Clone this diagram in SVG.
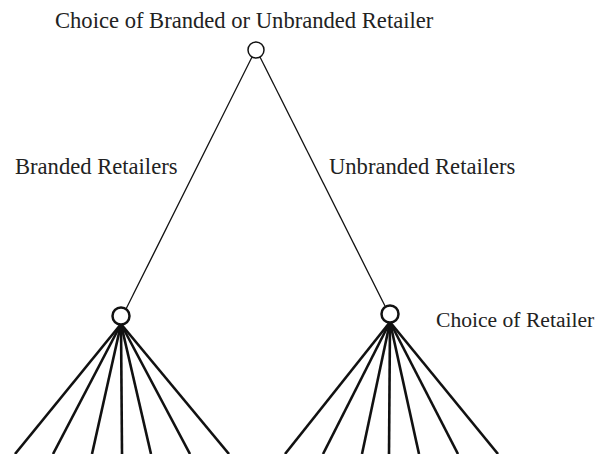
<svg xmlns="http://www.w3.org/2000/svg" width="600" height="454" viewBox="0 0 600 454">
<style>
text{font-family:"Liberation Serif","Times New Roman",serif;font-size:22.6px;fill:#222}
.node{fill:#fff;stroke:#111}
.thin{stroke:#111;stroke-width:1.3;fill:none}
.thick{stroke:#111;stroke-width:2.6;fill:none}
</style>
<rect width="600" height="454" fill="#fff"/>
<g id="connectors">
<line class="thin" x1="252" y1="57" x2="126" y2="309"/>
<line class="thin" x1="260" y1="57" x2="385" y2="306"/>
<g class="thick">
<line x1="121" y1="324" x2="15" y2="454"/>
<line x1="121" y1="324" x2="53" y2="454"/>
<line x1="121" y1="324" x2="92" y2="454"/>
<line x1="121" y1="324" x2="122" y2="454"/>
<line x1="121" y1="324" x2="151" y2="454"/>
<line x1="121" y1="324" x2="190" y2="454"/>
<line x1="121" y1="324" x2="229" y2="454"/>
<line x1="390" y1="322" x2="285" y2="454"/>
<line x1="390" y1="322" x2="323" y2="454"/>
<line x1="390" y1="322" x2="362" y2="454"/>
<line x1="390" y1="322" x2="389" y2="454"/>
<line x1="390" y1="322" x2="419" y2="454"/>
<line x1="390" y1="322" x2="458" y2="454"/>
<line x1="390" y1="322" x2="498" y2="454"/>
</g>
</g>
<g id="root">
<circle class="node" cx="256" cy="50" r="8" stroke-width="1.5"/>
<text x="55" y="27.5">Choice of Branded or Unbranded Retailer</text>
</g>
<g id="branded">
<circle class="node" cx="121" cy="316" r="8.5" stroke-width="2.5"/>
</g>
<g id="unbranded">
<circle class="node" cx="390" cy="314" r="8.5" stroke-width="2.5"/>
</g>
<g id="labels">
<text x="15" y="174">Branded Retailers</text>
<text x="329" y="174">Unbranded Retailers</text>
<text x="436" y="327" style="font-size:21.6px">Choice of Retailer</text>
</g>
</svg>
